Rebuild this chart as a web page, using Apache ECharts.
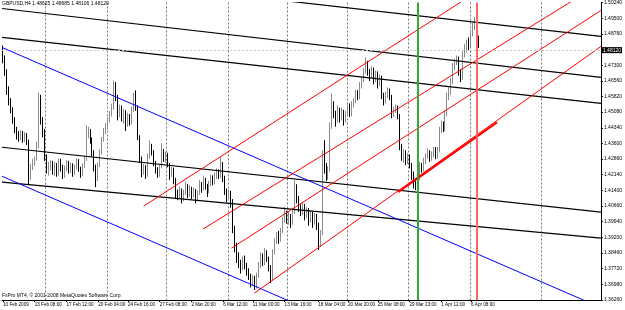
<!DOCTYPE html>
<html><head><meta charset="utf-8">
<script src="https://cdn.jsdelivr.net/npm/echarts/dist/echarts.min.js"></script>
<style>html,body{margin:0;padding:0;background:#fff}#c{width:625px;height:310px}</style>
</head><body><div id="c"></div>
<script>
// ---- data (prices in pips: 4812 -> 1.4812) ----
const symbolName = 'GBPUSD,H4';
const firstOpen = 4800;
const closes = [
4750,4700,4620,4560,4520,4470,4430,4400,4390,4410,
4380,4400,4370,4200,4250,4270,4290,4350,4550,4470,
4420,4300,4240,4250,4270,4230,4260,4220,4280,4250,
4215,4245,4270,4235,4260,4225,4250,4280,4240,4220,
4255,4290,4400,4420,4380,4320,4250,4200,4260,4320,
4380,4420,4440,4470,4500,4530,4620,4580,4500,4530,
4480,4510,4450,4490,4460,4520,4560,4530,4390,4290,
4230,4250,4210,4300,4350,4320,4270,4240,4210,4250,
4320,4290,4310,4260,4220,4240,4190,4130,4110,4140,
4100,4130,4160,4120,4150,4120,4140,4100,4130,4170,
4150,4190,4160,4140,4170,4200,4180,4210,4230,4210,
4260,4200,4140,4110,4130,4090,3960,3880,3830,3800,
3780,3810,3790,3760,3740,3700,3730,3690,3740,3790,
3830,3800,3850,3820,3780,3730,3850,3900,3930,3910,
3950,4000,4030,4000,4020,3990,4040,4150,4100,4060,
4040,4070,4020,4050,4000,4030,3990,4020,3980,3890,
3940,4300,4250,4200,4240,4440,4540,4500,4470,4520,
4480,4510,4470,4500,4530,4500,4540,4560,4600,4580,
4630,4660,4700,4740,4700,4680,4710,4660,4690,4640,
4670,4590,4560,4590,4610,4580,4500,4520,4530,4490,
4350,4300,4320,4280,4300,4260,4220,4180,4160,4200,
4260,4240,4280,4300,4320,4290,4310,4330,4300,4330,
4420,4450,4430,4500,4580,4600,4650,4720,4740,4760,
4700,4670,4780,4800,4830,4820,4880,4910,4940,4862.5,
4812];
const lows = [
4738,4680,4590,4540,4503,4455,4410,4380,4370,4375,
4365,4368,4355,4166,4190,4236,4255,4280,4340,4450,
4390,4280,4220,4210,4235,4215,4210,4205,4210,4230,
4195,4200,4230,4220,4222,4205,4212,4238,4228,4200,
4208,4245,4280,4385,4360,4300,4230,4156,4185,4250,
4310,4370,4405,4428,4460,4488,4520,4560,4470,4485,
4465,4455,4420,4440,4445,4452,4510,4515,4377,4270,
4203,4215,4195,4205,4290,4305,4255,4220,4200,4205,
4245,4275,4270,4250,4190,4205,4170,4100,4095,4100,
4080,4090,4120,4105,4110,4100,4108,4080,4090,4120,
4130,4140,4145,4110,4128,4160,4165,4170,4195,4195,
4200,4180,4120,4085,4095,4060,3940,3850,3800,3775,
3750,3765,3770,3740,3720,3685,3690,3673,3680,3730,
3775,3785,3790,3805,3760,3706,3720,3840,3890,3890,
3900,3940,3990,3985,3980,3965,3980,4030,4080,4040,
4020,4025,4000,4010,3975,3990,3965,3980,3955,3861,
3875,3930,4220,4185,4190,4230,4430,4480,4440,4460,
4460,4470,4445,4460,4490,4485,4490,4530,4550,4565,
4570,4620,4650,4690,4680,4655,4670,4640,4650,4620,
4630,4570,4540,4550,4575,4565,4480,4485,4505,4475,
4330,4280,4270,4260,4265,4245,4190,4150,4142,4150,
4190,4225,4230,4265,4290,4275,4280,4298,4288,4290,
4320,4410,4415,4420,4490,4565,4590,4640,4705,4730,
4680,4650,4660,4765,4790,4800,4810,4865,4895,4850,
4810.6];
const highs = [
4822,4775,4710,4630,4575,4532,4485,4440,4420,4424,
4420,4415,4410,4380,4265,4290,4300,4370,4600,4590,
4485,4430,4310,4275,4283,4280,4275,4270,4290,4290,
4262,4258,4282,4280,4272,4268,4262,4292,4288,4252,
4268,4305,4447,4440,4430,4390,4330,4262,4272,4335,
4392,4435,4458,4485,4515,4548,4658,4650,4590,4545,
4540,4522,4518,4505,4500,4535,4600,4611,4540,4400,
4300,4265,4260,4315,4377,4360,4330,4280,4250,4262,
4363,4335,4322,4318,4270,4252,4248,4200,4145,4160,
4150,4145,4180,4170,4165,4158,4155,4148,4142,4190,
4180,4210,4200,4172,4185,4215,4212,4225,4245,4240,
4297,4275,4210,4150,4145,4140,4100,3975,3895,3850,
3815,3830,3835,3800,3775,3750,3745,3740,3755,3805,
3850,3845,3870,3860,3830,3790,3865,3915,3945,3950,
3965,4015,4063,4045,4040,4030,4060,4189,4170,4115,
4075,4085,4078,4062,4058,4045,4040,4035,4030,3990,
3955,4330,4377,4270,4255,4460,4597,4560,4515,4540,
4530,4530,4520,4515,4545,4550,4560,4575,4615,4612,
4650,4675,4715,4766,4750,4712,4725,4718,4705,4700,
4685,4680,4600,4605,4625,4620,4590,4535,4545,4540,
4500,4360,4335,4330,4315,4310,4270,4230,4195,4215,
4275,4270,4295,4315,4340,4330,4325,4345,4345,4345,
4440,4470,4465,4517,4600,4625,4670,4740,4760,4775,
4770,4710,4795,4830,4850,4860,4895,4930,4954,4945,
4868.5];

const nSlots = 302;  // bar slots incl. chart shift area
const timeLabels = ['10 Feb 2009','13 Feb 08:00','17 Feb 12:00','20 Feb 04:00','24 Feb 16:00','27 Feb 08:00','2 Mar 20:00','6 Mar 12:00','11 Mar 00:00','13 Mar 16:00','18 Mar 04:00','20 Mar 20:00','25 Mar 08:00','29 Mar 23:00','1 Apr 12:00','6 Apr 08:00'];
const timeLabelBars = [0,16,32,48,63,79,95,111,126,142,159,174,189,205,221,236];
const gridBars = [22,53,83,114,144,174,205,236,272];
const priceLabels = ['1.36260','1.36980','1.37720','1.38460','1.39200','1.39940','1.40660','1.41400','1.42140','1.42860','1.43600','1.44340','1.45080','1.45820','1.46560','1.47300','1.48040','1.48760','1.49500','1.50240'];
const priceMin = 1.3626, priceMax = 1.5024;

// trendline anchors [barIndex, price]
const blackLines = [
  [[-0.5,1.49959],[301.5,1.46722]],
  [[-0.5,1.48598],[301.5,1.45502]],
  [[199.2,1.49724],[284.1,1.48833]],
  [[-0.5,1.43438],[301.5,1.40388]],
  [[-0.5,1.41796],[301.5,1.39169]]
];
const blueLines = [
  [[-0.5,1.48129],[292.6,1.36260]],
  [[-0.5,1.42077],[144.3,1.36213]]
];
const redRays = [
  [[70.9,1.40670],[199.2,1.48363]],
  [[100.8,1.39591],[249.1,1.48129]],
  [[115.3,1.38700],[249.1,1.46722]],
  [[126.8,1.36580],[301.5,1.48176]]
];
const redSegment = [[199.2,1.41327],[249.1,1.44610]];
const greenVLineBar = 209;
const redVLineBar = 239;
const lastBar = {open:1.48625, high:1.48685, low:1.48106, close:1.48120};

// ---- build ----
const P = v => 1 + v/10000;
const cats = [];
for (let i=0;i<nSlots;i++){ const k=timeLabelBars.indexOf(i); cats.push(k>=0?timeLabels[k]:''); }
const candles = closes.map((c,i)=>{
  const o = i===0 ? firstOpen : closes[i-1];
  return [P(o), P(c), P(lows[i]), P(highs[i])];
});
const xLo=-0.5, xHi=nSlots-0.5;
function extend(pts, both){
  const [a,b]=pts; const m=(b[1]-a[1])/(b[0]-a[0]);
  const x0 = both? xLo : a[0];
  return [[x0, a[1]+m*(x0-a[0])],[xHi, a[1]+m*(xHi-a[0])]];
}
const lineSeries = [];
function addLine(data,color,width){
  lineSeries.push({type:'line',xAxisIndex:1,yAxisIndex:0,data,symbol:'none',silent:true,clip:true,
    lineStyle:{color,width},z:3,animation:false});
}
blackLines.forEach(l=>addLine(extend(l,true),'#000',1.2));
blueLines.forEach(l=>addLine(extend(l,true),'#0000ff',1));
redRays.forEach(l=>addLine(extend(l,false),'#ff0000',1));
addLine(redSegment,'#ff0000',2);
lineSeries.push({type:'line',xAxisIndex:1,yAxisIndex:0,data:[],silent:true,
  markLine:{symbol:'none',silent:true,label:{show:false},animation:false,
    data:[{xAxis:greenVLineBar,lineStyle:{color:'#33aa33',width:2,type:'solid'}},
          {xAxis:redVLineBar,lineStyle:{color:'#ff6666',width:2,type:'solid'}}]}});

const font = 'Liberation Sans, DejaVu Sans, sans-serif';
const chart = echarts.init(document.getElementById('c'),null,{renderer:'canvas'});
chart.setOption({
  animation:false,
  backgroundColor:'#fff',
  title:{text:symbolName+' '+[lastBar.open,lastBar.high,lastBar.low,lastBar.close].map(v=>v.toFixed(5)).join(' '),
    left:2,top:1,padding:0,textStyle:{fontSize:5,fontWeight:'normal',color:'#000',fontFamily:font}},
  graphic:[{type:'text',left:2,top:293,style:{text:'FxPro MT4, \u00a9 2001-2008 MetaQuotes Software Corp.',fontSize:5,fill:'#000',fontFamily:font}}],
  grid:{left:0,right:20,top:2,bottom:10,containLabel:false},
  xAxis:[
    {type:'category',data:cats,boundaryGap:true,
     axisLine:{lineStyle:{color:'#000',width:1}},
     axisTick:{show:true,length:2,alignWithLabel:true,interval:(i)=>timeLabelBars.includes(i),lineStyle:{color:'#000'}},
     axisLabel:{interval:0,align:'left',fontSize:4.6,color:'#000',margin:2,fontFamily:font},
     splitLine:{show:true,interval:(i)=>gridBars.includes(i),lineStyle:{color:'#777',type:[2,2],width:1}}},
    {type:'value',min:xLo,max:xHi,show:false}
  ],
  yAxis:[
    {type:'value',min:priceMin,max:priceMax,position:'right',show:false,scale:true},
    {type:'value',min:0,max:priceLabels.length-1,interval:1,position:'right',
     axisLine:{show:true,lineStyle:{color:'#000'}},
     axisTick:{show:true,length:2,lineStyle:{color:'#000'}},
     axisLabel:{formatter:(v)=>priceLabels[Math.round(v)]||'',fontSize:5,color:'#000',margin:3,fontFamily:font},
     splitLine:{show:false}}
  ],
  series:[
    {type:'candlestick',xAxisIndex:0,yAxisIndex:0,data:candles,barWidth:1,z:2,
     itemStyle:{color:'#b0b0b0',color0:'#000',borderColor:'#8a8a8a',borderColor0:'#000',borderWidth:1},
     markLine:{symbol:'none',silent:true,animation:false,
       data:[{yAxis:lastBar.close}],
       lineStyle:{color:'#c8c8c8',type:[2,2],width:1},
       label:{position:'end',distance:1,formatter:()=>lastBar.close.toFixed(5),backgroundColor:'#000',color:'#fff',fontSize:5,padding:[1,1,0,1],fontFamily:font}}},
    ...lineSeries
  ]
});
</script></body></html>
